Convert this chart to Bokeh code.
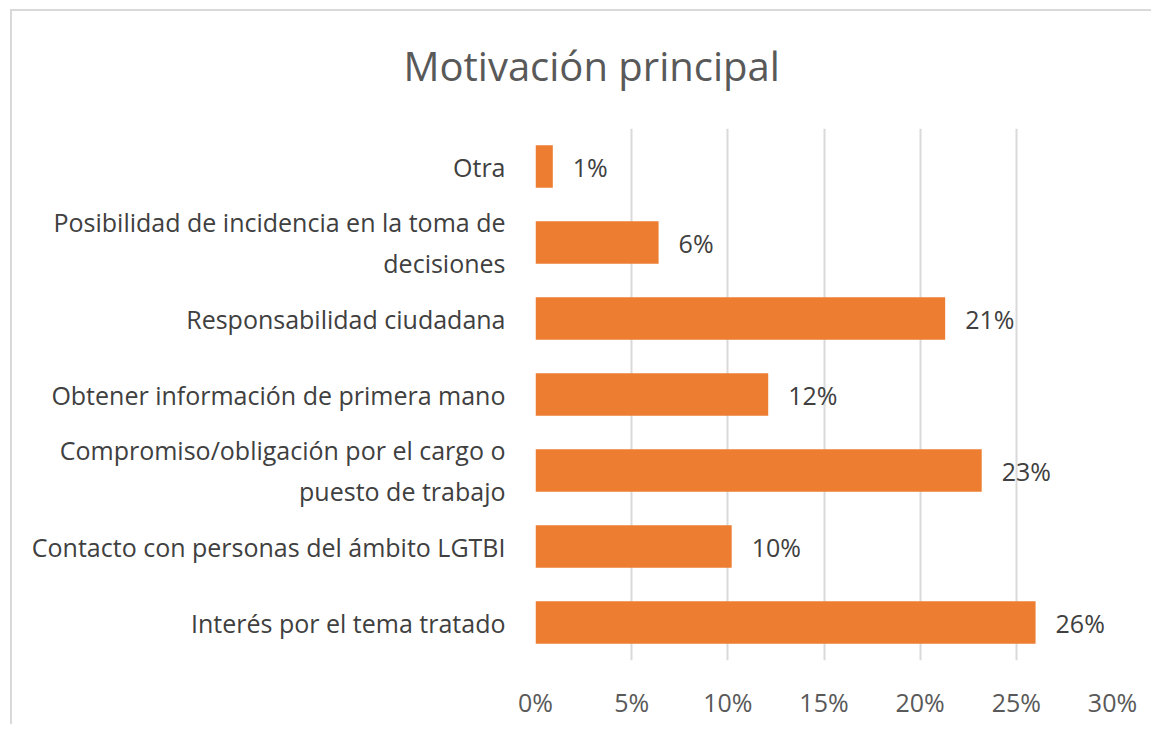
from bokeh.plotting import figure
from bokeh.models import ColumnDataSource, FixedTicker, PrintfTickFormatter, Title
from bokeh.core.properties import value
from bokeh.embed import file_html
from bokeh.resources import INLINE

categories = [
    "Otra",
    "Posibilidad de incidencia en la toma de\ndecisiones",
    "Responsabilidad ciudadana",
    "Obtener información de primera mano",
    "Compromiso/obligación por el cargo o\npuesto de trabajo",
    "Contacto con personas del ámbito LGTBI",
    "Interés por el tema tratado",
]
values = [0.9, 6.4, 21.3, 12.1, 23.2, 10.2, 26.0]
labels = [f"{round(v)}%" for v in values]
x_ticks = [0, 5, 10, 15, 20, 25, 30]

FONT = "Open Sans"
src = ColumnDataSource(dict(cat=categories, val=values, lab=labels))

p = figure(
    width=1151, height=724,
    y_range=list(reversed(categories)),
    x_range=(0, 30),
    output_backend="svg", toolbar_location=None,
    min_border_left=535, min_border_right=39,
    min_border_top=128, min_border_bottom=64,
)
p.title = Title(text="Motivación principal", align="left", offset=-132,
                text_font=FONT, text_font_size="40px", text_font_style="normal",
                text_color="#595959", standoff=71)

p.hbar(y="cat", right="val", left=0, height=0.56, source=src,
       fill_color="#ED7D31", line_color=None)
p.text(x="val", y="cat", text="lab", source=src, x_offset=20,
       text_baseline="middle", text_align="left",
       text_font=value(FONT), text_font_size="25px", text_color="#404040")

p.outline_line_color = None
p.background_fill_color = "white"
p.border_fill_color = None
# chart-area border: thin grey lines along the left and top edges
p.styles = {
    "background-color": "white",
    "background-image": "linear-gradient(#d9d9d9, #d9d9d9), linear-gradient(#d9d9d9, #d9d9d9)",
    "background-position": "10px 9px, 10px 9px",
    "background-size": "2px 100%, 100% 2px",
    "background-repeat": "no-repeat, no-repeat",
}

p.xgrid.grid_line_color = "#d9d9d9"
p.xgrid.grid_line_width = 2
p.ygrid.grid_line_color = None

p.xaxis.ticker = FixedTicker(ticks=x_ticks)
p.xaxis.formatter = PrintfTickFormatter(format="%d%%")
for ax in (p.xaxis, p.yaxis):
    ax.axis_line_color = None
    ax.major_tick_line_color = None
    ax.minor_tick_line_color = None
    ax.major_tick_out = 0
    ax.major_tick_in = 0
    ax.minor_tick_out = 0
    ax.major_label_text_font = FONT
    ax.major_label_text_font_size = "25px"
    ax.major_label_text_color = "#595959"
p.xaxis.major_label_standoff = 24
p.yaxis.major_label_standoff = 30
p.yaxis.major_label_text_color = "#404040"

open("out.html", "w").write(file_html(p, INLINE))
